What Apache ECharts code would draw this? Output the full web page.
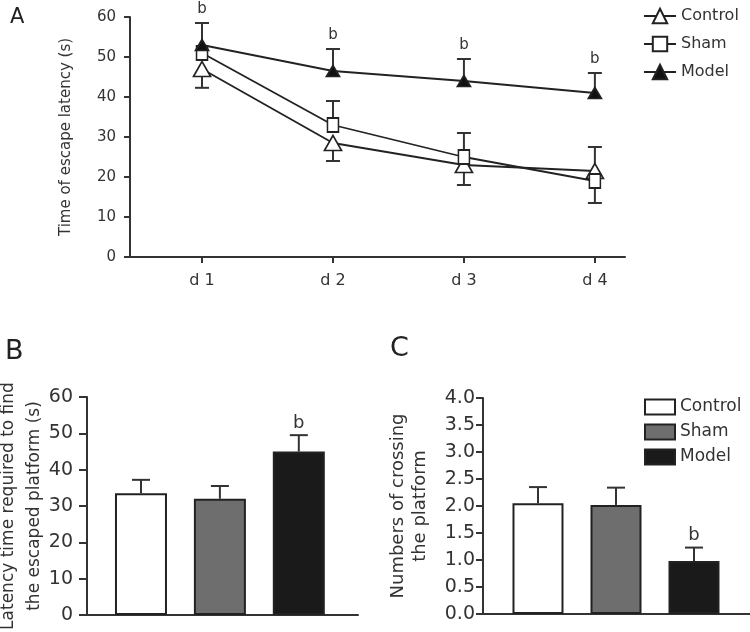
<!DOCTYPE html>
<html>
<head>
<meta charset="utf-8">
<script src="https://cdn.jsdelivr.net/npm/echarts@6/dist/echarts.min.js"></script>
<style>
  html, body { margin: 0; padding: 0; background: #fff; }
  #MyChart { width: 750px; height: 632px; }
</style>
</head>
<body>
<div id="MyChart"></div>
<script>
// ---- data ----
const groups = ['Control', 'Sham', 'Model']
const days = ['d 1', 'd 2', 'd 3', 'd 4']

// A: time of escape latency (s)
const latencyControl = [47, 28.5, 23, 21.5]
const latencySham = [51, 33, 25, 19]
const latencyModel = [53, 46.5, 44, 41]
// error bars, + drawn up, - drawn down, 0 not drawn
const latencyControlErr = [-4.7, -4.5, -5, 6]
const latencyShamErr = [0, 6, 6, -5.5]
const latencyModelErr = [5.5, 5.5, 5.5, 5]
const latencyMarks = ['b', 'b', 'b', 'b']
const latencyTicks = [0, 10, 20, 30, 40, 50, 60]

// B: latency time to find the escaped platform (s)
const platformTime = [33.5, 32, 45]
const platformTimeErr = [3.7, 3.5, 4.5]
const platformTimeMarks = ['', '', 'b']
const platformTicks = [0, 10, 20, 30, 40, 50, 60]

// C: numbers of crossing the platform
const crossings = [2.05, 2.02, 0.98]
const crossingsErr = [0.3, 0.32, 0.25]
const crossingsMarks = ['', '', 'b']
const crossingTicks = [0, 0.5, 1, 1.5, 2, 2.5, 3, 3.5, 4]

const barColors = ['#ffffff', '#6e6e6e', '#1a1a1a']
const ink = '#333'
const font = 'DejaVu Sans'

// error bar + significance letter, drawn with custom series
function errorBars (grid, values, errs, marks, capW, markSize, markGap) {
  return {
    type: 'custom',
    xAxisIndex: grid,
    yAxisIndex: grid,
    z: 1,
    silent: true,
    data: values.map((v, i) => [i + 1, v, errs[i]]),
    renderItem: function (params, api) {
      const x = api.value(0)
      const y = api.value(1)
      const e = api.value(2)
      const p0 = api.coord([x, y])
      const p1 = api.coord([x, y + e])
      const style = { stroke: ink, lineWidth: 2 }
      const children = []
      if (e !== 0) {
        children.push({ type: 'line', shape: { x1: p0[0], y1: p0[1], x2: p1[0], y2: p1[1] }, style: style })
        children.push({ type: 'line', shape: { x1: p1[0] - capW / 2, y1: p1[1], x2: p1[0] + capW / 2, y2: p1[1] }, style: style })
      }
      const mark = marks[params.dataIndex]
      if (mark) {
        children.push({
          type: 'text',
          x: p1[0],
          y: p1[1] - markGap,
          style: { text: mark, align: 'center', verticalAlign: 'bottom', fill: ink, font: markSize + 'px "' + font + '"' }
        })
      }
      return { type: 'group', children: children }
    }
  }
}

function lineSeries (name, values, symbol, size, fill) {
  return {
    type: 'line',
    name: name,
    xAxisIndex: 0,
    yAxisIndex: 0,
    z: 3,
    data: values.map((v, i) => [i + 1, v]),
    symbol: symbol,
    symbolSize: size,
    itemStyle: { color: fill, borderColor: '#222', borderWidth: 1.7 },
    lineStyle: { color: '#222', width: 1.8 },
    emphasis: { disabled: true }
  }
}

function barSeries (grid, tag, values, width) {
  return values.map((v, i) => ({
    type: 'bar',
    name: groups[i] + tag,
    xAxisIndex: grid,
    yAxisIndex: grid,
    barWidth: width,
    barGap: '-100%',
    z: 2,
    data: [[i + 1, v]],
    itemStyle: { color: barColors[i], borderColor: '#222', borderWidth: 2 },
    emphasis: { disabled: true }
  }))
}

function yAxis (grid, ticks, name, opts) {
  return {
    type: 'value',
    gridIndex: grid,
    min: ticks[0],
    max: ticks[ticks.length - 1],
    interval: ticks[1] - ticks[0],
    name: name,
    nameLocation: 'middle',
    nameGap: opts.nameGap,
    nameMoveOverlap: false,
    nameTextStyle: { color: ink, fontFamily: font, fontSize: opts.nameSize, lineHeight: opts.nameLine },
    axisLine: { show: true, lineStyle: { color: ink, width: 2 } },
    axisTick: { show: true, length: opts.tick, lineStyle: { color: ink, width: 2 } },
    axisLabel: { color: ink, fontFamily: font, fontSize: opts.labelSize, margin: opts.margin, formatter: opts.fmt },
    splitLine: { show: false }
  }
}

function plainXAxis (grid, min, max) {
  return {
    type: 'value',
    gridIndex: grid,
    min: min,
    max: max,
    axisLine: { show: true, onZero: false, lineStyle: { color: ink, width: 2 } },
    axisTick: { show: false },
    axisLabel: { show: false },
    splitLine: { show: false }
  }
}

const myChart = echarts.init(document.getElementById('MyChart'))
const option = {
  animation: false,
  backgroundColor: '#fff',
  title: [
    { text: 'A', left: 5, top: 2, textStyle: { fontFamily: font, fontWeight: 'normal', fontSize: 21, color: '#222' } },
    { text: 'B', left: 0, top: 333, textStyle: { fontFamily: font, fontWeight: 'normal', fontSize: 27, color: '#222' } },
    { text: 'C', left: 385, top: 330, textStyle: { fontFamily: font, fontWeight: 'normal', fontSize: 27, color: '#222' } }
  ],
  grid: [
    { left: 130, top: 17, width: 495, height: 240, outerBoundsMode: 'none' },
    { left: 87, top: 397, width: 271, height: 218, outerBoundsMode: 'none' },
    { left: 483, top: 398, width: 267, height: 216, outerBoundsMode: 'none' }
  ],
  legend: [
    {
      data: groups,
      orient: 'vertical',
      left: 638,
      top: 2,
      itemWidth: 32,
      itemHeight: 18,
      itemGap: 10,
      textStyle: { color: ink, fontFamily: font, fontSize: 16, lineHeight: 18 },
      selectedMode: false
    },
    {
      data: groups.map(g => g + '|C'),
      formatter: n => n.split('|')[0],
      orient: 'vertical',
      left: 639,
      top: 393,
      icon: 'rect',
      itemWidth: 30,
      itemHeight: 15,
      itemGap: 7,
      textStyle: { color: ink, fontFamily: font, fontSize: 17, lineHeight: 18 },
      selectedMode: false
    }
  ],
  xAxis: [
    {
      type: 'value',
      gridIndex: 0,
      min: 0.45,
      max: 4.23,
      axisLine: { show: true, onZero: false, lineStyle: { color: ink, width: 2 } },
      axisTick: { show: true, customValues: [1, 2, 3, 4], length: 6, lineStyle: { color: ink, width: 2 } },
      axisLabel: { customValues: [1, 2, 3, 4], color: ink, fontFamily: font, fontSize: 16, margin: 16, formatter: v => days[Math.round(v) - 1] },
      splitLine: { show: false }
    },
    plainXAxis(1, 0.316, 3.75),
    plainXAxis(2, 0.295, 3.718)
  ],
  yAxis: [
    yAxis(0, latencyTicks, 'Time of escape latency (s)', { nameGap: 55, nameSize: 15, nameLine: 18, tick: 6, labelSize: 15, margin: 14 }),
    yAxis(1, platformTicks, 'Latency time required to find\nthe escaped platform (s)', { nameGap: 39, nameSize: 17, nameLine: 26, tick: 8, labelSize: 19, margin: 14 }),
    yAxis(2, crossingTicks, 'Numbers of crossing\nthe platform', { nameGap: 52, nameSize: 18, nameLine: 22, tick: 7, labelSize: 19, margin: 8, fmt: v => v.toFixed(1) })
  ],
  series: [
    lineSeries('Control', latencyControl, 'triangle', [17, 15], '#fff'),
    lineSeries('Sham', latencySham, 'rect', [11, 14], '#fff'),
    lineSeries('Model', latencyModel, 'triangle', [13, 11], '#111'),
    errorBars(0, latencyControl, latencyControlErr, ['', '', '', ''], 14, 15, 6),
    errorBars(0, latencySham, latencyShamErr, ['', '', '', ''], 14, 15, 6),
    errorBars(0, latencyModel, latencyModelErr, latencyMarks, 14, 15, 6),
    ...barSeries(1, '|B', platformTime, 52),
    errorBars(1, platformTime, platformTimeErr, platformTimeMarks, 18, 18, 3),
    ...barSeries(2, '|C', crossings, 51),
    errorBars(2, crossings, crossingsErr, crossingsMarks, 18, 18, 3)
  ]
}
myChart.setOption(option)
</script>
</body>
</html>
